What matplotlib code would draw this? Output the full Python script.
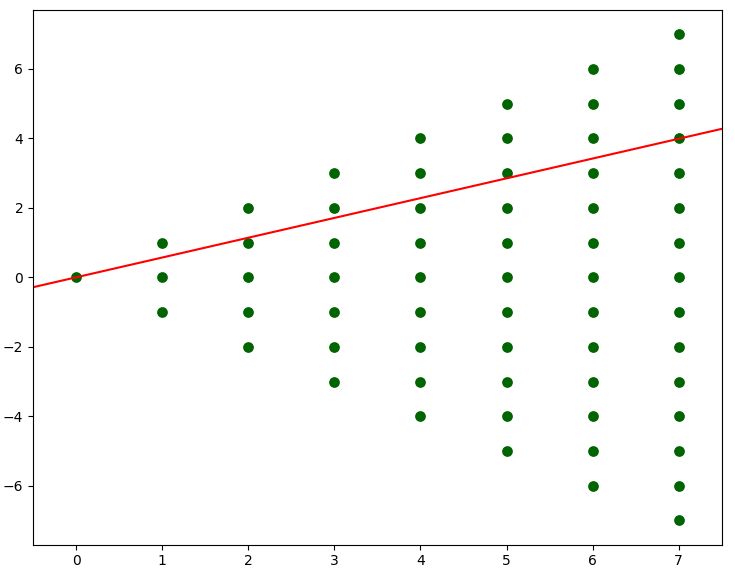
import matplotlib
matplotlib.use("Agg")
import matplotlib.pyplot as plt

# points: for each x, the y values present
xs_cols = [0, 1, 2, 3, 4, 5, 6, 7]
y_lo = [0, -1, -2, -3, -4, -5, -6, -7]
y_hi = [0, 1, 2, 3, 4, 5, 6, 7]

# fitted line
slope = 0.57
intercept = 0.0
line_x = [-0.5, 7.5]

xs = []
ys = []
for x1, lo, hi in zip(xs_cols, y_lo, y_hi):
    for y1 in range(lo, hi + 1):
        xs.append(x1)
        ys.append(y1)

fig = plt.figure(figsize=(7.35, 5.82), dpi=100)
ax = fig.add_axes([0.045, 0.064, 0.937, 0.919])
ax.scatter(xs, ys, color="darkgreen", s=45)
ax.plot(line_x, [slope * t + intercept for t in line_x], color="red", lw=1.5)
ax.set_xlim(-0.5, 7.5)
ax.set_ylim(-7.7, 7.7)
fig.savefig("out.png", dpi=100)
